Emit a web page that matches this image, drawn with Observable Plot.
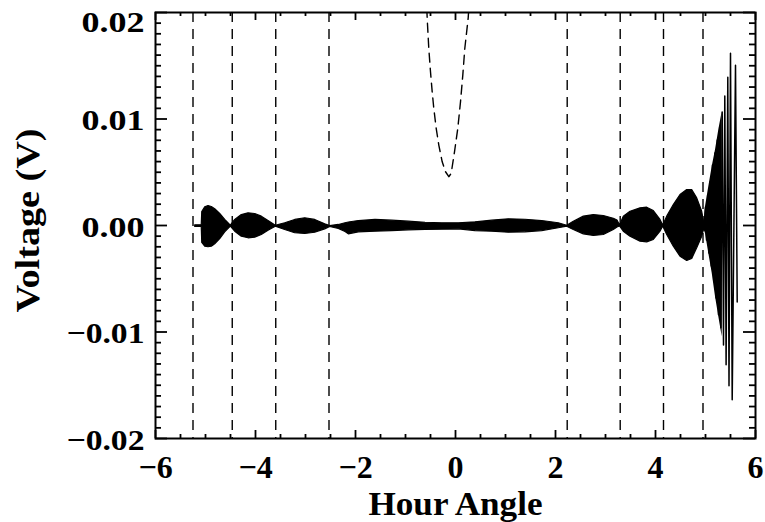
<!DOCTYPE html>
<html><head><meta charset="utf-8">
<script src="https://cdn.jsdelivr.net/npm/d3@7"></script>
<script src="https://cdn.jsdelivr.net/npm/@observablehq/plot@0.6"></script>
<style>
html,body{margin:0;padding:0;background:#fff;}
</style></head><body><div id="chart"></div>
<script>
// Envelope of the densely oscillating fringe signal (hour angle, upper, lower in V)
const envX = [
  -5.206, -5.075, -5.065, -5.006, -4.94, -4.874, -4.806, -4.706, -4.606, -4.494,
  -4.406, -4.274, -4.14, -4.006, -3.874, -3.74, -3.594,
  -3.406, -3.206, -3.006, -2.806, -2.606, -2.506,
  -2.334, -2.2, -2.134, -1.934, -1.6, -1.266, -0.934, -0.6, -0.266, 0.066, 0.4, 0.734, 1.066, 1.4, 1.734, 2.066, 2.234,
  2.366, 2.566, 2.766, 2.966, 3.166, 3.24, 3.29,
  3.366, 3.5, 3.7, 3.834, 3.966, 4.1, 4.154,
  4.234, 4.366, 4.5, 4.634, 4.734, 4.834, 4.934, 4.97
];
const envTop = [
  0.00002, 0.00002, 0.00127, 0.00171, 0.00183, 0.00174, 0.00152, 0.00108, 0.00052, -0.00002,
  0.00052, 0.00098, 0.00114, 0.00108, 0.00083, 0.00042, -0.00002,
  0.00021, 0.00052, 0.00068, 0.00052, 0.00011, -0.00005,
  0.00005, 0.00021, 0.00028, 0.00042, 0.00052, 0.00045, 0.00036, 0.00026, 0.00021, 0.00021, 0.00030, 0.00045, 0.00058, 0.00054, 0.00042, 0.00021, -0.00002,
  0.00036, 0.00083, 0.00098, 0.00089, 0.00063, 0.00047, 0.0,
  0.00083, 0.00129, 0.00161, 0.00167, 0.00136, 0.00052, 0.0,
  0.00083, 0.00192, 0.00286, 0.00333, 0.00333, 0.00255, 0.00129, 0.00033
];
const envBot = [
  -0.00013, -0.00013, -0.00164, -0.00199, -0.00204, -0.00199, -0.00176, -0.00127, -0.00064, -0.00011,
  -0.00058, -0.00105, -0.00120, -0.00114, -0.00089, -0.00049, -0.00011,
  -0.00042, -0.00073, -0.00080, -0.00068, -0.00036, -0.00014,
  -0.00033, -0.00061, -0.00083, -0.00064, -0.00058, -0.00052, -0.00045, -0.00042, -0.00039, -0.00036, -0.00052, -0.00058, -0.00068, -0.00064, -0.00052, -0.00026, -0.00011,
  -0.00042, -0.00083, -0.00098, -0.00089, -0.00042, -0.00019, -0.00009,
  -0.00058, -0.00105, -0.00152, -0.00158, -0.00136, -0.00058, -0.00009,
  -0.00089, -0.00199, -0.00293, -0.00333, -0.00314, -0.00214, -0.00105, -0.00042
];

// Dense growing part at the right end (filled region)
const rightX = [4.97, 5.0, 5.066, 5.134, 5.2, 5.266, 5.334];
const rightTop = [0.00033, 0.00176, 0.00364, 0.00552, 0.00708, 0.00896, 0.01067];
const rightBot = [-0.00042, -0.00074, -0.00262, -0.00449, -0.00668, -0.00856, -0.01044];

// Resolved oscillation peaks/troughs at the right end
const zigX = [4.98, 5.00, 5.02, 5.044, 5.068, 5.092, 5.116, 5.14, 5.164, 5.188, 5.212, 5.236, 5.26,
  5.284, 5.308, 5.334, 5.36, 5.386, 5.412, 5.446, 5.47, 5.50, 5.534, 5.60, 5.634];
const zigY = [0.00033, 0.00174, -0.00136, 0.00286, -0.00258, 0.00408, -0.00380, 0.00567, -0.00511,
  0.00680, -0.00680, 0.00802, -0.00839, 0.00924, -0.00961, 0.01065, -0.01121, 0.01215, -0.01308,
  0.01393, -0.01505, 0.01618, -0.01637, 0.01505, -0.00718];

// Dashed curve
const curveX = [-0.574, -0.566, -0.534, -0.5, -0.466, -0.434, -0.386, -0.334, -0.266, -0.2, -0.134,
  -0.086, -0.02, 0.046, 0.1, 0.146, 0.186, 0.254, 0.266];
const curveY = [0.0204, 0.01943, 0.01662, 0.01443, 0.01255, 0.01099, 0.00912, 0.00755, 0.00598, 0.00505,
  0.00458, 0.00490, 0.00692, 0.00912, 0.01161, 0.01412, 0.01662, 0.01949, 0.0204];

// Dashed vertical lines at the envelope nodes
const nodeLines = [-5.25, -4.465, -3.595, -2.53, 2.234, 3.294, 4.16, 4.95];

// Axes
const xMajor = [-6, -4, -2, 0, 2, 4, 6];
const xTickLabels = ["\u22126", "\u22124", "\u22122", "0", "2", "4", "6"];
const xMinor = [-5.5, -5, -4.5, -3.5, -3, -2.5, -1.5, -1, -0.5, 0.5, 1, 1.5, 2.5, 3, 3.5, 4.5, 5, 5.5];
const yMajor = [-0.02, -0.01, 0, 0.01];
const yTickLabels = ["\u22120.02", "\u22120.01", "0.00", "0.01"];
const yTopTick = [0.02];
const yTopLabel = ["0.02"];
const yMinor = [-0.019, -0.018, -0.017, -0.016, -0.015, -0.014, -0.013, -0.012, -0.011,
  -0.009, -0.008, -0.007, -0.006, -0.005, -0.004, -0.003, -0.002, -0.001,
  0.001, 0.002, 0.003, 0.004, 0.005, 0.006, 0.007, 0.008, 0.009,
  0.011, 0.012, 0.013, 0.014, 0.015, 0.016, 0.017, 0.018, 0.019];
const xTitle = "Hour Angle";
const yTitle = "Voltage (V)";

const env = envX.map((x, i) => ({x, top: envTop[i], bot: envBot[i]}));
const rightEnv = rightX.map((x, i) => ({x, top: rightTop[i], bot: rightBot[i]}));
const zig = zigX.map((x, i) => ({x, y: zigY[i]}));
const curve = curveX.map((x, i) => ({x, y: curveY[i]}));

const W = 765, H = 522, mL = 155, mR = 10, mT = 12, mB = 84;
const ph = H - mT - mB, pw = W - mL - mR;
const ff = "'Liberation Serif', 'Times New Roman', serif";
const tickW = 1.8;
const yTickMajor = yMajor.concat(yTopTick);

const chart = Plot.plot({
  width: W, height: H,
  marginLeft: mL, marginRight: mR, marginTop: mT, marginBottom: mB,
  x: {domain: [-6, 6], axis: null},
  y: {domain: [-0.02, 0.02], axis: null},
  style: {background: "white", color: "black", fontFamily: ff, overflow: "visible"},
  marks: [
    Plot.ruleX(nodeLines, {x: d => d, stroke: "black", strokeWidth: 1.4, strokeDasharray: "10,7"}),
    Plot.line(curve, {x: "x", y: "y", stroke: "black", strokeWidth: 1.4, strokeDasharray: "9,6", clip: true}),
    Plot.areaY(env, {x: "x", y1: "bot", y2: "top", fill: "black", stroke: "black", strokeWidth: 1.2}),
    Plot.areaY(rightEnv, {x: "x", y1: "bot", y2: "top", fill: "black"}),
    Plot.line(zig, {x: "x", y: "y", stroke: "black", strokeWidth: 1.5}),
    Plot.tickX(xMajor, {x: d => d, insetTop: ph - 8, strokeWidth: tickW}),
    Plot.tickX(xMajor, {x: d => d, insetBottom: ph - 8, strokeWidth: tickW}),
    Plot.tickX(xMinor, {x: d => d, insetTop: ph - 4, strokeWidth: tickW}),
    Plot.tickX(xMinor, {x: d => d, insetBottom: ph - 4, strokeWidth: tickW}),
    Plot.tickY(yTickMajor, {y: d => d, insetRight: pw - 12, strokeWidth: tickW}),
    Plot.tickY(yTickMajor, {y: d => d, insetLeft: pw - 12, strokeWidth: tickW}),
    Plot.tickY(yMinor, {y: d => d, insetRight: pw - 6, strokeWidth: tickW}),
    Plot.tickY(yMinor, {y: d => d, insetLeft: pw - 6, strokeWidth: tickW}),
    Plot.frame({stroke: "black", strokeWidth: 2}),
    Plot.text(xMajor, {x: d => d, text: (d, i) => xTickLabels[i], frameAnchor: "bottom", dy: 17,
      lineAnchor: "top", fontSize: 32, fontWeight: "bold", fill: "black"}),
    Plot.text(yMajor, {y: d => d, text: (d, i) => yTickLabels[i], frameAnchor: "left", dx: -11, dy: 1.5,
      textAnchor: "end", fontSize: 30, fontWeight: "bold", fill: "black"}),
    Plot.text(yTopTick, {y: d => d, text: (d, i) => yTopLabel[i], frameAnchor: "left", dx: -11, dy: 10,
      textAnchor: "end", fontSize: 30, fontWeight: "bold", fill: "black"}),
    Plot.text([xTitle], {text: d => d, frameAnchor: "bottom", dy: 53, lineAnchor: "top",
      fontSize: 33, fontWeight: "bold", fill: "black"}),
    Plot.text([yTitle], {text: d => d, frameAnchor: "left", textAnchor: "middle", dx: -127, dy: -5, rotate: -90,
      fontSize: 33, fontWeight: "bold", fill: "black"})
  ]
});
document.getElementById("chart").appendChild(chart);

// Widen the serif glyphs to the proportions of the original's font
const widths = new Map([["0.02", 63], ["0.01", 63], ["0.00", 63], ["\u22120.01", 78], ["\u22120.02", 78],
  [yTitle, 184], [xTitle, 174]]);
d3.select(chart).selectAll("text").each(function () {
  const t = this.textContent;
  if (widths.has(t)) {
    this.setAttribute("textLength", widths.get(t));
    this.setAttribute("lengthAdjust", "spacingAndGlyphs");
  }
});
</script>
</body></html>
